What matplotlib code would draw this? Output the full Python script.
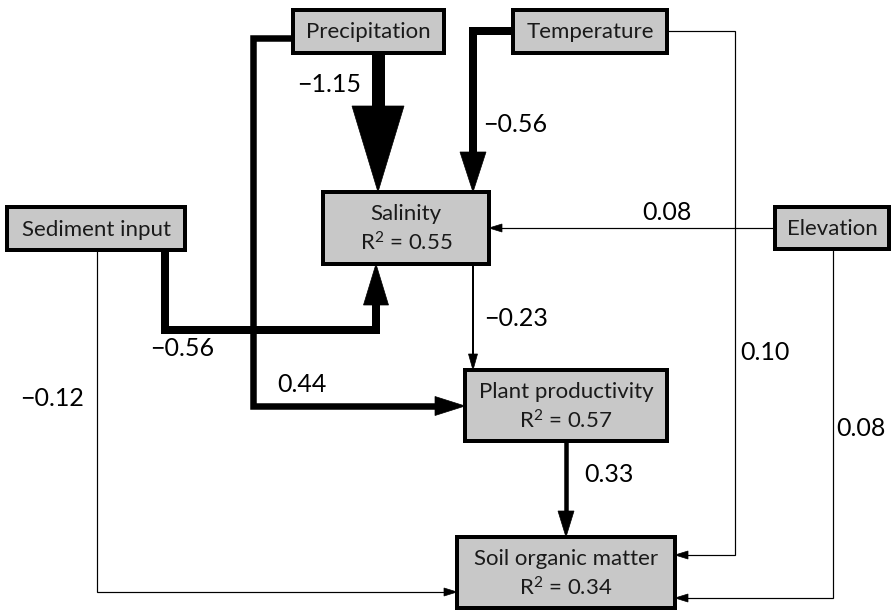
import matplotlib
matplotlib.use("Agg")
import matplotlib.pyplot as plt
from matplotlib.patches import Rectangle, Polygon
from matplotlib.lines import Line2D

plt.rcParams['font.family'] = ['Lato', 'DejaVu Sans']
plt.rcParams['mathtext.fontset'] = 'custom'
plt.rcParams['mathtext.rm'] = 'Lato'
plt.rcParams['mathtext.default'] = 'regular'

# ---- data ----
node_names = ["Precipitation", "Temperature", "Sediment input", "Salinity",
              "Elevation", "Plant productivity", "Soil organic matter"]
node_r2 = [None, None, None, 0.55, None, 0.57, 0.34]
edge_from = ["Precipitation", "Temperature", "Precipitation", "Sediment input",
             "Salinity", "Elevation", "Temperature", "Elevation",
             "Plant productivity", "Sediment input"]
edge_to = ["Salinity", "Salinity", "Plant productivity", "Salinity",
           "Plant productivity", "Salinity", "Soil organic matter",
           "Soil organic matter", "Soil organic matter", "Soil organic matter"]
edge_coef = ["\u22121.15", "\u22120.56", "0.44", "\u22120.56", "\u22120.23",
             "0.08", "0.10", "0.08", "0.33", "\u22120.12"]

# ---- layout (pixel space) ----
W, H = 894, 610
boxes = {  # x0, y0, x1, y1
    "Precipitation": (293, 10, 444, 53),
    "Temperature": (513, 10, 667, 53),
    "Sediment input": (7, 207, 185, 250),
    "Salinity": (323, 192, 489, 264),
    "Elevation": (775, 207, 889, 249),
    "Plant productivity": (465, 370, 667, 441),
    "Soil organic matter": (457, 537, 675, 608),
}
routes = [
    dict(pts=[(378, 53), (378, 192)], lw=13, hl=86, hw=52, lab=(329, 85)),
    dict(pts=[(513, 31), (473, 31), (473, 192)], lw=8, hl=40, hw=26, lab=(515, 125)),
    dict(pts=[(293, 38), (253, 38), (253, 406), (465, 406)], lw=6.5, hl=30, hw=19, lab=(302, 384)),
    dict(pts=[(165, 250), (165, 330), (376, 330), (376, 264)], lw=8, hl=41, hw=25, lab=(182, 349)),
    dict(pts=[(473, 264), (473, 370)], lw=2, hl=16, hw=9, lab=(516, 318)),
    dict(pts=[(775, 228), (489, 228)], lw=1.2, hl=13, hw=8, lab=(667, 213)),
    dict(pts=[(667, 31), (735, 31), (735, 555), (675, 555)], lw=1.2, hl=13, hw=8, lab=(765, 352)),
    dict(pts=[(833, 249), (833, 598), (675, 598)], lw=1.2, hl=13, hw=8, lab=(861, 428)),
    dict(pts=[(566, 441), (566, 537)], lw=4.5, hl=26, hw=16, lab=(609, 475)),
    dict(pts=[(97, 250), (97, 592), (457, 592)], lw=1.2, hl=13, hw=8, lab=(52, 398)),
]

fig = plt.figure(figsize=(W / 100, H / 100), dpi=100)
ax = fig.add_axes([0, 0, 1, 1])
ax.set_xlim(0, W)
ax.set_ylim(H, 0)
ax.axis('off')
px = 0.72  # points per pixel

for r, coef in zip(routes, edge_coef):
    pts = list(r['pts'])
    (x1, y1), (x2, y2) = pts[-2], pts[-1]
    dx, dy = x2 - x1, y2 - y1
    L = (dx * dx + dy * dy) ** 0.5
    ux, uy = dx / L, dy / L
    bx, by = x2 - ux * r['hl'], y2 - uy * r['hl']
    line_pts = pts[:-1] + [(bx + ux * 1, by + uy * 1)]
    xs = [p[0] for p in line_pts]
    ys = [p[1] for p in line_pts]
    ax.add_line(Line2D(xs, ys, lw=r['lw'] * px, color='black',
                       solid_capstyle='projecting' if r['lw'] > 3 else 'butt',
                       solid_joinstyle='miter', zorder=2))
    nx, ny = -uy, ux
    hw = r['hw'] / 2
    ax.add_patch(Polygon([(x2, y2), (bx + nx * hw, by + ny * hw), (bx - nx * hw, by - ny * hw)],
                         closed=True, facecolor='black', edgecolor='black', lw=0.5, zorder=2))
    ax.text(r['lab'][0], r['lab'][1], coef, fontsize=18, ha='center', va='center', zorder=4)

for name, r2 in zip(node_names, node_r2):
    x0, y0, x1, y1 = boxes[name]
    ax.add_patch(Rectangle((x0, y0), x1 - x0, y1 - y0, facecolor='#c8c8c8',
                           edgecolor='black', lw=4 * px, zorder=3, joinstyle='miter'))
    cx = (x0 + x1) / 2
    if r2 is None:
        ax.text(cx, (y0 + y1) / 2 + 1, name, fontsize=16, ha='center', va='center', zorder=4,
                color='#1a1a1a')
    else:
        ax.text(cx, y0 + 22, name, fontsize=16, ha='center', va='center', zorder=4, color='#1a1a1a')
        ax.text(cx, y0 + 51, "R$^{2}$ = %.2f" % r2, fontsize=16, ha='center', va='center',
                zorder=4, color='#1a1a1a')

fig.savefig("out.png", dpi=100)
